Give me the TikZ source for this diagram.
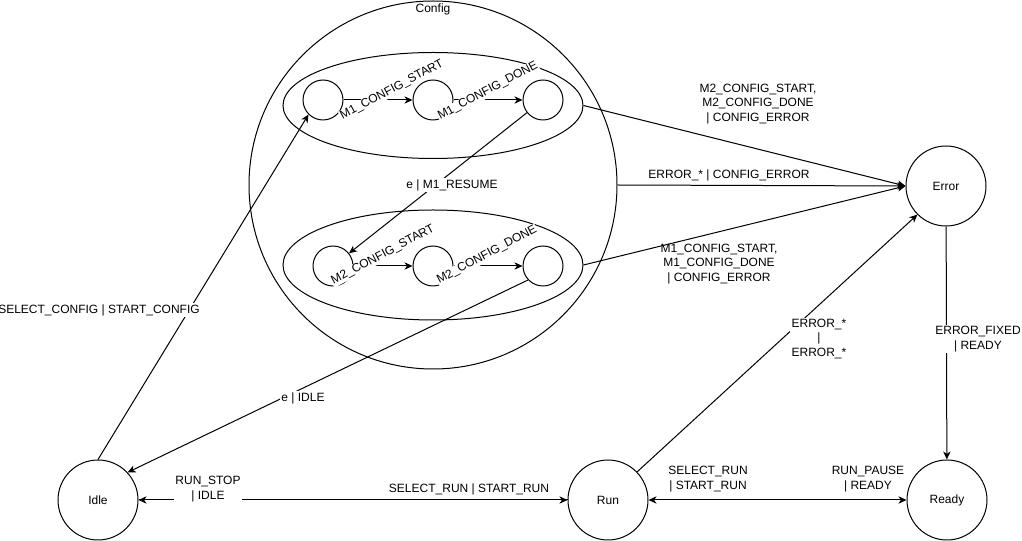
\documentclass[tikz,border=0pt]{standalone}
\usepackage{fontspec}
\setmainfont{Liberation Sans}
\usetikzlibrary{arrows.meta,shapes.geometric}
\begin{document}
\begin{tikzpicture}[x=0.75pt,y=-0.75pt,
  every node/.style={font=\fontsize{9pt}{10.8pt}\selectfont},
  st/.style={circle,draw,line width=0.75pt,minimum size=30pt,inner sep=0pt},
  bigst/.style={circle,draw,line width=0.75pt,minimum size=60pt,inner sep=0pt},
  region/.style={ellipse,draw,line width=0.75pt,minimum width=225pt,inner sep=0pt},
  tr/.style={line width=0.75pt,-{Stealth[length=6pt,width=5.5pt,inset=1.8pt]}},
  both/.style={line width=0.75pt,{Stealth[length=6pt,width=5.5pt,inset=1.8pt]}-{Stealth[length=6pt,width=5.5pt,inset=1.8pt]}},
  lbl/.style={fill=white,inner sep=1pt,align=center},
  plain/.style={inner sep=1pt,align=center},
  rot/.style={fill=white,inner sep=0.5pt,rotate=28}
]
\useasboundingbox (0,0) rectangle (1022,541);

% composite state
\node[circle,draw,line width=0.75pt,minimum size=276pt,inner sep=0pt] (config) at (433,185) {};
\node[inner sep=0pt] (configlbl) at (433,9) {Config};
\node[region,minimum height=79.5pt] (m1) at (433,105.5) {};
\node[region,minimum height=82.5pt] (m2) at (433,265) {};

% inner states
\node[st] (m1a) at (323,100) {};
\node[st] (m1b) at (433,100) {};
\node[st] (m1c) at (543,100) {};
\node[st] (m2a) at (333,266) {};
\node[st] (m2b) at (433,266) {};
\node[st] (m2c) at (543,266) {};

% outer states
\node[bigst] (idle) at (98,500) {Idle};
\node[bigst] (run) at (608,500) {Run};
\node[bigst] (ready) at (947,500) {Ready};
\node[bigst] (error) at (946,186) {Error};

% transitions
\draw[tr] (idle.north) -- (m1a.225);
\draw[tr] (m1a) -- (m1b);
\draw[tr] (m1b) -- (m1c);
\draw[tr] (m1c) -- (m2a);
\draw[tr] (m2a) -- (m2b);
\draw[tr] (m2b) -- (m2c);
\draw[tr] (m2c.-137) -- (idle.43);
\draw[tr] (m1.east) -- (error.west);
\draw[tr] (config.east) -- (error.west);
\draw[tr] (m2.east) -- (error.west);
\draw[tr] (run.44) -- (error.225);
\draw[tr] (error) -- (ready);
\draw[tr] (run) -- (idle);
\draw[tr] (idle) -- (run);
\draw[both] (run) -- (ready);

% labels
\node[lbl] (lselcfg) at (99,310) {SELECT\_CONFIG | START\_CONFIG};
\node[rot] (lm1s) at (392,90) {M1\_CONFIG\_START};
\node[rot] (lm1d) at (488,91) {M1\_CONFIG\_DONE};
\node[rot] (lm2s) at (383,255) {M2\_CONFIG\_START};
\node[rot] (lm2d) at (487,255) {M2\_CONFIG\_DONE};
\node[lbl] (lres) at (452,185) {e | M1\_RESUME};
\node[lbl] (leidle) at (303,398) {e | IDLE};
\node[plain] (lm2err) at (758,104) {M2\_CONFIG\_START,\\M2\_CONFIG\_DONE\\| CONFIG\_ERROR};
\node[plain] (lerr) at (729,175) {ERROR\_* | CONFIG\_ERROR};
\node[plain] (lm1err) at (719,264) {M1\_CONFIG\_START,\\M1\_CONFIG\_DONE\\| CONFIG\_ERROR};
\node[lbl] (lrunerr) at (819,339) {ERROR\_*\\|\\ERROR\_*};
\node[lbl] (lfixed) at (978,339) {ERROR\_FIXED\\| READY};
\node[lbl] (lstop) at (208,489) {RUN\_STOP\\| IDLE};
\node[plain] (lselrun) at (469,489) {SELECT\_RUN | START\_RUN};
\node[plain] (lselrun2) at (708,479) {SELECT\_RUN\\| START\_RUN};
\node[plain] (lpause) at (868,479) {RUN\_PAUSE\\| READY};
\end{tikzpicture}
\end{document}
